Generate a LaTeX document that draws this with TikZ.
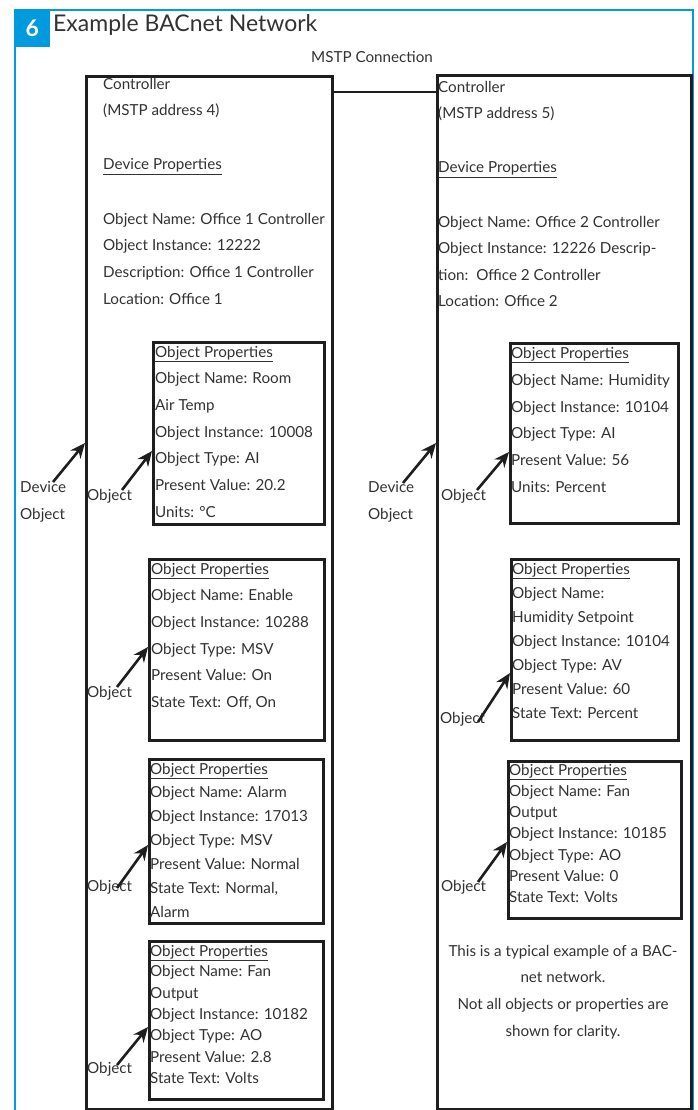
\documentclass[tikz,border=0pt]{standalone}
\usepackage{fontspec}
\setmainfont{Lato}
\usetikzlibrary{arrows.meta}
\definecolor{bblue}{RGB}{0,155,222}
\definecolor{txtc}{RGB}{50,50,50}
\definecolor{linec}{RGB}{30,30,30}
\begin{document}
\begin{tikzpicture}[x=1pt,y=-1pt,
  t/.style={anchor=base west,inner sep=0pt,font=\fontsize{15.2}{18}\selectfont,text=txtc},
  tc/.style={anchor=base,inner sep=0pt,font=\fontsize{15.2}{18}\selectfont,text=txtc},
  box/.style={draw=linec,line width=2.6pt,anchor=north west,inner sep=0pt,fill=none},
  arr/.style={draw=linec,line width=2.6pt,-{Stealth[length=15pt,width=13pt]}},
  frame/.style={draw=bblue,line width=2pt},
]
\useasboundingbox (0,0) rectangle (697,1110);
% blue frame
\draw[frame] (15,1112) -- (15,10.5) -- (692.5,10.5) -- (692.5,1112);
\node[fill=bblue,anchor=north west,minimum width=36pt,minimum height=37pt,inner sep=0pt,
      text=white,font=\fontsize{23}{26}\bfseries\selectfont] (num) at (14,10) {6};
\node[anchor=base west,inner sep=0pt,font=\fontsize{23}{26}\selectfont,text=txtc] (title) at (53,32) {Example BACnet Network};

% controllers
\node[box,minimum width=246pt,minimum height=1033pt] (c4) at (85,75) {};
\node[box,minimum width=254pt,minimum height=1034pt] (c5) at (436,74) {};
\draw[draw=linec,line width=2.6pt] (c4.east |- 0,92) -- (c5.west |- 0,92);
\node[tc] (mstp) at (372,63) {MSTP Connection};

% left device text
\node[t] (l1) at (103,90) {Controller};
\node[t] (l2) at (103,116) {(MSTP address 4)};
\node[t] (l3) at (103,170) {\underline{Device Properties}};
\node[t] (l4) at (103,224) {Object Name: Office 1 Controller};
\node[t] (l5) at (103,250) {Object Instance: 12222};
\node[t] (l6) at (103,277) {Description: Office 1 Controller};
\node[t] (l7) at (103,304) {Location: Office 1};

% right device text
\node[t] (r1) at (438,93) {Controller};
\node[t] (r2) at (438,119) {(MSTP address 5)};
\node[t] (r3) at (438,173) {\underline{Device Properties}};
\node[t] (r4) at (438,227) {Object Name: Office 2 Controller};
\node[t] (r5) at (438,253) {Object Instance: 12226 Descrip-};
\node[t] (r6) at (438,280) {tion:\ \ Office 2 Controller};
\node[t] (r7) at (438,306) {Location: Office 2};

% left object boxes
\node[box,minimum width=171pt,minimum height=182pt] (lo1) at (152,341) {};
\node[t] at (155,357) {\underline{Object Properties}};
\node[t] at (155,383) {Object Name: Room};
\node[t] at (155,410) {Air Temp};
\node[t] at (155,437) {Object Instance: 10008};
\node[t] at (155,463) {Object Type: AI};
\node[t] at (155,490) {Present Value: 20.2};
\node[t] at (155,517) {Units: °C};

\node[box,minimum width=175pt,minimum height=181pt] (lo2) at (148,558) {};
\node[t] at (151,574) {\underline{Object Properties}};
\node[t] at (151,600) {Object Name: Enable};
\node[t] at (151,627) {Object Instance: 10288};
\node[t] at (151,654) {Object Type: MSV};
\node[t] at (151,680) {Present Value: On};
\node[t] at (151,707) {State Text: Off, On};

\node[box,minimum width=174pt,minimum height=164pt] (lo3) at (148,758) {};
\node[t] at (150,774) {\underline{Object Properties}};
\node[t] at (150,797) {Object Name: Alarm};
\node[t] at (150,821) {Object Instance: 17013};
\node[t] at (150,845) {Object Type: MSV};
\node[t] at (150,869) {Present Value: Normal};
\node[t] at (150,893) {State Text: Normal,};
\node[t] at (150,917) {Alarm};

\node[box,minimum width=174pt,minimum height=158pt] (lo4) at (148,940) {};
\node[t] at (150,956) {\underline{Object Properties}};
\node[t] at (150,976) {Object Name: Fan};
\node[t] at (150,998) {Output};
\node[t] at (150,1019) {Object Instance: 10182};
\node[t] at (150,1040) {Object Type: AO};
\node[t] at (150,1062) {Present Value: 2.8};
\node[t] at (150,1083) {State Text: Volts};

% right object boxes
\node[box,minimum width=168pt,minimum height=180pt] (ro1) at (509,342) {};
\node[t] at (511,358) {\underline{Object Properties}};
\node[t] at (511,385) {Object Name: Humidity};
\node[t] at (511,412) {Object Instance: 10104};
\node[t] at (511,438) {Object Type: AI};
\node[t] at (511,465) {Present Value: 56};
\node[t] at (511,492) {Units: Percent};

\node[box,minimum width=167pt,minimum height=181pt] (ro2) at (510,558) {};
\node[t] at (512,574) {\underline{Object Properties}};
\node[t] at (512,598) {Object Name:};
\node[t] at (512,622) {Humidity Setpoint};
\node[t] at (512,646) {Object Instance: 10104};
\node[t] at (512,670) {Object Type: AV};
\node[t] at (512,694) {Present Value: 60};
\node[t] at (512,718) {State Text: Percent};

\node[box,minimum width=173pt,minimum height=157pt] (ro3) at (507,760) {};
\node[t] at (509,775) {\underline{Object Properties}};
\node[t] at (509,796) {Object Name: Fan};
\node[t] at (509,817) {Output};
\node[t] at (509,838) {Object Instance: 10185};
\node[t] at (509,860) {Object Type: AO};
\node[t] at (509,881) {Present Value: 0};
\node[t] at (509,902) {State Text: Volts};

% note
\node[tc] (n1) at (563,956) {This is a typical example of a BAC-};
\node[tc] (n2) at (563,982) {net network.};
\node[tc] (n3) at (563,1009) {Not all objects or properties are};
\node[tc] (n4) at (563,1036) {shown for clarity.};

% labels
\node[t] (ld1) at (20,492) {Device};
\node[t] (ld2) at (20,519) {Object};
\node[t] (lob1) at (87,500) {Object};
\node[t] (lob2) at (87,697) {Object};
\node[t] (lob3) at (87,891) {Object};
\node[t] (lob4) at (87,1073) {Object};
\node[t] (rd1) at (368,492) {Device};
\node[t] (rd2) at (368,519) {Object};
\node[t] (rob1) at (441,500) {Object};
\node[t] (rob2) at (440,723) {Object};
\node[t] (rob3) at (441,891) {Object};

% arrow endpoints
\coordinate (ald) at (53,482);
\coordinate (ard) at (403,483);
\coordinate (al1) at (122,490);
\coordinate (al2) at (117,687);
\coordinate (al3) at (117,888);
\coordinate (al4) at (117,1065);
\coordinate (ar1) at (477,490);
\coordinate (ar2) at (478,722);
\coordinate (ar3) at (478,882);

\draw[arr] (ald) -- (c4.west |- 0,443);
\draw[arr] (ard) -- (c5.west |- 0,443);
\draw[arr] (al1) -- (lo1.west |- 0,451);
\draw[arr] (al2) -- (lo2.west |- 0,647);
\draw[arr] (al3) -- (lo3.west |- 0,845);
\draw[arr] (al4) -- (lo4.west |- 0,1027);
\draw[arr] (ar1) -- (ro1.west |- 0,452);
\draw[arr] (ar2) -- (ro2.west |- 0,673);
\draw[arr] (ar3) -- (ro3.west |- 0,842);
\end{tikzpicture}
\end{document}
